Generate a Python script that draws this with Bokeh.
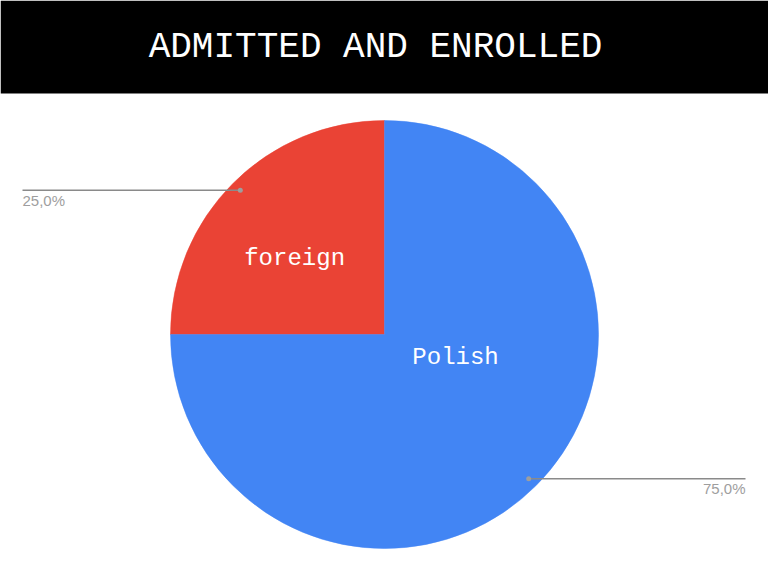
import math
from bokeh.plotting import figure
from bokeh.models import Range1d, ColumnDataSource
from bokeh.core.properties import value
from bokeh.embed import file_html
from bokeh.resources import INLINE

# ---- data ----
title_text = "ADMITTED AND ENROLLED"
categories = ["foreign", "Polish"]
values = [25.0, 75.0]
colors = ["#EA4335", "#4285F4"]
# label placement (fractions of radius, style only)
label_dx = [-0.42, 0.332]
label_dy = [0.355, -0.107]

W, H = 768, 566
p = figure(width=W, height=H, output_backend="svg", toolbar_location=None,
           x_range=Range1d(0, W), y_range=Range1d(0, H), min_border=0)
p.axis.visible = False
p.grid.visible = False
p.outline_line_color = None
p.background_fill_color = "white"
p.border_fill_color = "white"

# title bar
p.quad(left=0, right=W, bottom=H - 93, top=H, fill_color="black", line_color=None)
p.text(x=[W / 2 - 9], y=[H - 47], text=[title_text], text_color="white",
       text_font=value("Liberation Mono"), text_font_style="normal",
       text_font_size="36px", text_align="center", text_baseline="middle")

cx, cy, R = 384, H - 334, 214
total = sum(values)
starts, ends, mids = [], [], []
a = math.pi / 2
for v in values:
    s = a
    e = a + 2 * math.pi * v / total
    starts.append(s)
    ends.append(e)
    mids.append((s + e) / 2)
    a = e

src = ColumnDataSource(dict(start=starts, end=ends, color=colors))
p.wedge(x=cx, y=cy, radius=R, start_angle="start", end_angle="end",
        direction="anticlock", fill_color="color", line_color="color",
        line_width=0.5, source=src)

# inside labels
lx = [cx + d * R for d in label_dx]
ly = [cy + d * R for d in label_dy]
p.text(x=lx, y=ly, text=categories, text_color="white",
       text_font=value("Liberation Mono"), text_font_style="normal",
       text_font_size="24px", text_align="center", text_baseline="middle")

# leader lines with percentage labels
left_edge, right_edge = 22, 745
for v, m in zip(values, mids):
    dx = cx + 0.953 * R * math.cos(m)
    dy = cy + 0.953 * R * math.sin(m)
    pct = f"{v:.1f}%".replace(".", ",")
    if math.cos(m) < 0:
        ex, align = left_edge, "left"
    else:
        ex, align = right_edge, "right"
    p.line(x=[dx, ex], y=[dy, dy], line_color="#8a8a8a", line_width=1.5)
    p.scatter(x=[dx], y=[dy], size=5, fill_color="#9e9e9e", line_color=None)
    p.text(x=[ex], y=[dy - 10], text=[pct], text_color="#9e9e9e",
           text_font=value("Liberation Sans"), text_font_size="15px",
           text_align=align, text_baseline="middle")

open("out.html", "w").write(file_html(p, INLINE))
